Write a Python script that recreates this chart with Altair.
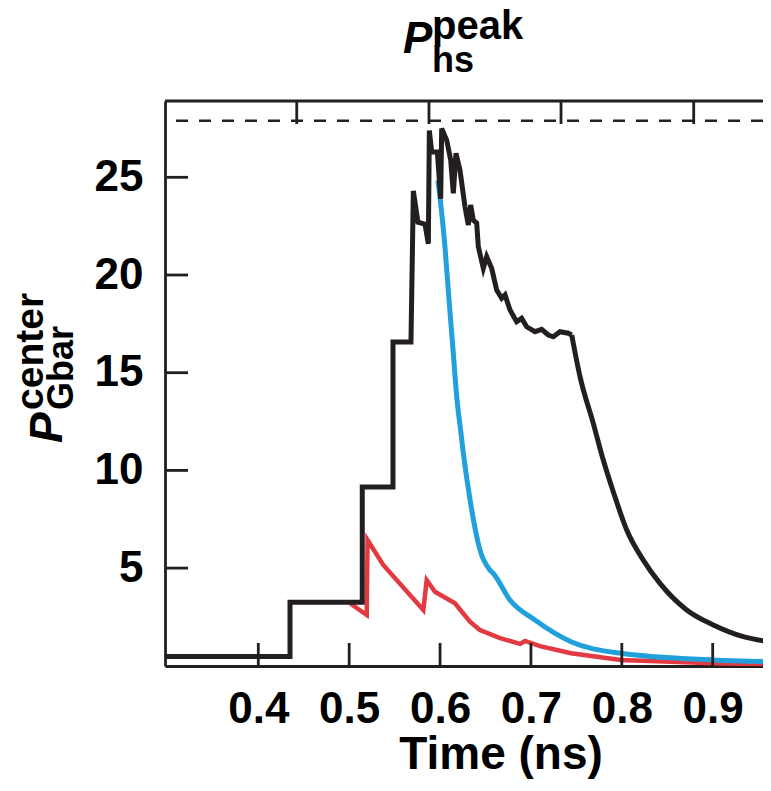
import altair as alt
import pandas as pd

# ---------------- data ----------------
# black: step rise and noisy plateau
black_x = [0.2973, 0.4349, 0.4349, 0.5144, 0.5144, 0.5482, 0.5482, 0.5680, 0.5706, 0.5757,
           0.5834, 0.5871, 0.5882, 0.5908, 0.5970, 0.6007, 0.6018, 0.6073, 0.6117, 0.6146,
           0.6175, 0.6219, 0.6274, 0.6311, 0.6337, 0.6366, 0.6403, 0.6421, 0.6476, 0.6513,
           0.6568, 0.6623, 0.6678, 0.6715, 0.6770, 0.6843, 0.6898, 0.6953, 0.7045, 0.7118,
           0.7191, 0.7246, 0.7320, 0.7411, 0.7449]
black_y = [0.47, 0.47, 3.25, 3.25, 9.15, 9.15, 16.57, 16.57, 24.3, 22.7,
           22.6, 21.6, 27.4, 26.3, 26.3, 23.9, 27.5, 26.9, 25.88, 24.18,
           26.23, 25.37, 23.5, 22.56, 23.58, 22.81, 22.66, 21.45, 20.34, 20.94,
           20.34, 19.23, 18.81, 18.98, 18.21, 17.61, 17.78, 17.35, 17.1, 17.22,
           16.93, 16.84, 17.1, 17.02, 16.93]
# black: smooth decay after the plateau
black_tail_x = [0.7449, 0.7540, 0.7686, 0.7796, 0.7906, 0.8054, 0.8236, 0.8420, 0.8714,
                0.9007, 0.9337, 0.9641]
black_tail_y = [16.93, 14.8, 12.41, 10.53, 8.91, 6.95, 5.41, 4.22, 2.86, 2.09, 1.49, 1.22]

blue_x = [0.5977, 0.6000, 0.6055, 0.6099, 0.6143, 0.6187, 0.6209, 0.6220, 0.6253, 0.6330,
          0.6439, 0.6549, 0.6582, 0.6769, 0.7044, 0.7441, 0.7991, 0.9000, 0.9641]
blue_y = [24.85, 23.94, 21.38, 18.7, 16.16, 13.6, 12.68, 12.3, 11.0, 8.49,
          5.93, 4.9, 4.75, 3.37, 2.34, 1.23, 0.64, 0.30, 0.21]

red_x = [0.5009, 0.5193, 0.5202, 0.5375, 0.5816, 0.5853, 0.5944, 0.6164, 0.6329, 0.6439,
         0.6660, 0.6880, 0.6935, 0.7100, 0.7441, 0.7991, 0.9000, 0.9641]
red_y = [3.20, 2.60, 6.44, 5.16, 2.86, 4.39, 3.79, 3.20, 2.26, 1.83,
         1.42, 1.12, 1.27, 1.01, 0.64, 0.30, 0.13, 0.08]

x_ticks = [0.4, 0.5, 0.6, 0.7, 0.8, 0.9]
y_ticks = [5, 10, 15, 20, 25]
top_ticks = [0.4423, 0.5878, 0.7331, 0.8791]
peak_level = [27.9]

# ---------------- layout ----------------
W, H = 598, 565
X_DOMAIN = [0.29734, 0.95535]
Y_DOMAIN = [-0.01, 28.905]
AX = "#231f20"
FONT = "Liberation Sans"
AXW = 2.8

xscale = alt.Scale(domain=X_DOMAIN, nice=False, zero=False)
yscale = alt.Scale(domain=Y_DOMAIN, nice=False, zero=False)
xaxis = alt.Axis(values=x_ticks, format=".1f", ticks=False, grid=False, title=None,
                 labelFont=FONT, labelFontSize=44, labelFontWeight="bold", labelColor="black",
                 labelPadding=21, domainColor=AX, domainWidth=AXW, labelFlush=False)
yaxis = alt.Axis(values=y_ticks, ticks=False, grid=False, title=None,
                 labelFont=FONT, labelFontSize=44, labelFontWeight="bold", labelColor="black",
                 labelPadding=22, domainColor=AX, domainWidth=AXW, labelFlush=False)


def xenc(f):
    return alt.X(f"{f}:Q", scale=xscale, axis=xaxis)


def yenc(f):
    return alt.Y(f"{f}:Q", scale=yscale, axis=yaxis)


def series(xs, ys):
    return pd.DataFrame({"x": xs, "y": ys, "o": list(range(len(xs)))})


def line(xs, ys, color, width, interp="linear"):
    return alt.Chart(series(xs, ys)).mark_line(color=color, strokeWidth=width, clip=True,
                                               interpolate=interp,
                                               strokeJoin="miter", strokeCap="butt").encode(
        x=xenc("x"), y=yenc("y"), order="o:Q")


red = line(red_x, red_y, "#e23a40", 4.5)
blue = line(blue_x, blue_y, "#22a0dc", 5, "monotone")
black = line(black_x, black_y, "#231f20", 5)
black_tail = line(black_tail_x, black_tail_y, "#231f20", 5, "monotone")

ytick_rules = alt.Chart(pd.DataFrame({"v": y_ticks})).mark_rule(color=AX, strokeWidth=AXW).encode(
    y=yenc("v"), x=alt.value(0), x2=alt.value(23))
xtick_rules = alt.Chart(pd.DataFrame({"v": x_ticks})).mark_rule(color=AX, strokeWidth=AXW).encode(
    x=xenc("v"), y=alt.value(H), y2=alt.value(H - 23))
toptick_rules = alt.Chart(pd.DataFrame({"v": top_ticks})).mark_rule(color=AX, strokeWidth=AXW).encode(
    x=xenc("v"), y=alt.value(0), y2=alt.value(23))
top_border = alt.Chart(pd.DataFrame({"v": [0]})).mark_rule(color=AX, strokeWidth=AXW).encode(
    x=alt.value(0), x2=alt.value(W), y=alt.value(0))
dashed = alt.Chart(pd.DataFrame({"v": peak_level})).mark_rule(
    color=AX, strokeWidth=2.5, strokeDash=[12, 11]).encode(y=yenc("v"))


def label(txt, x, y, size, italic=False, angle=0):
    props = dict(font=FONT, fontSize=size, fontWeight="bold", color="black",
                 align="left", baseline="alphabetic")
    if italic:
        props["fontStyle"] = "italic"
    if angle:
        props["angle"] = angle
    return alt.Chart(pd.DataFrame({"t": [txt]})).mark_text(**props).encode(
        text="t:N", x=alt.value(x), y=alt.value(y))


title_layers = [
    label("P", 238, -48, 44, italic=True),
    label("peak", 267, -62, 40),
    label("hs", 267, -29, 36),
    label("P", -103, 342, 46, italic=True, angle=270),
    label("center", -122, 309, 39, angle=270),
    label("Gbar", -92, 309, 36, angle=270),
    alt.Chart(pd.DataFrame({"t": ["Time (ns)"]})).mark_text(
        font=FONT, fontSize=46, fontWeight="bold", color="black",
        align="center", baseline="alphabetic").encode(
        text="t:N", x=alt.value(336), y=alt.value(668)),
]

chart = alt.layer(
    dashed, red, blue, black, black_tail, ytick_rules, xtick_rules, toptick_rules, top_border,
    *title_layers
).properties(
    width=W, height=H,
    autosize=alt.AutoSizeParams(type="none"),
    padding={"left": 157, "top": 93, "right": 0, "bottom": 113},
    background="white",
).configure_view(strokeWidth=0)

chart.save("out.html", embed_options={"renderer": "svg", "actions": False})
